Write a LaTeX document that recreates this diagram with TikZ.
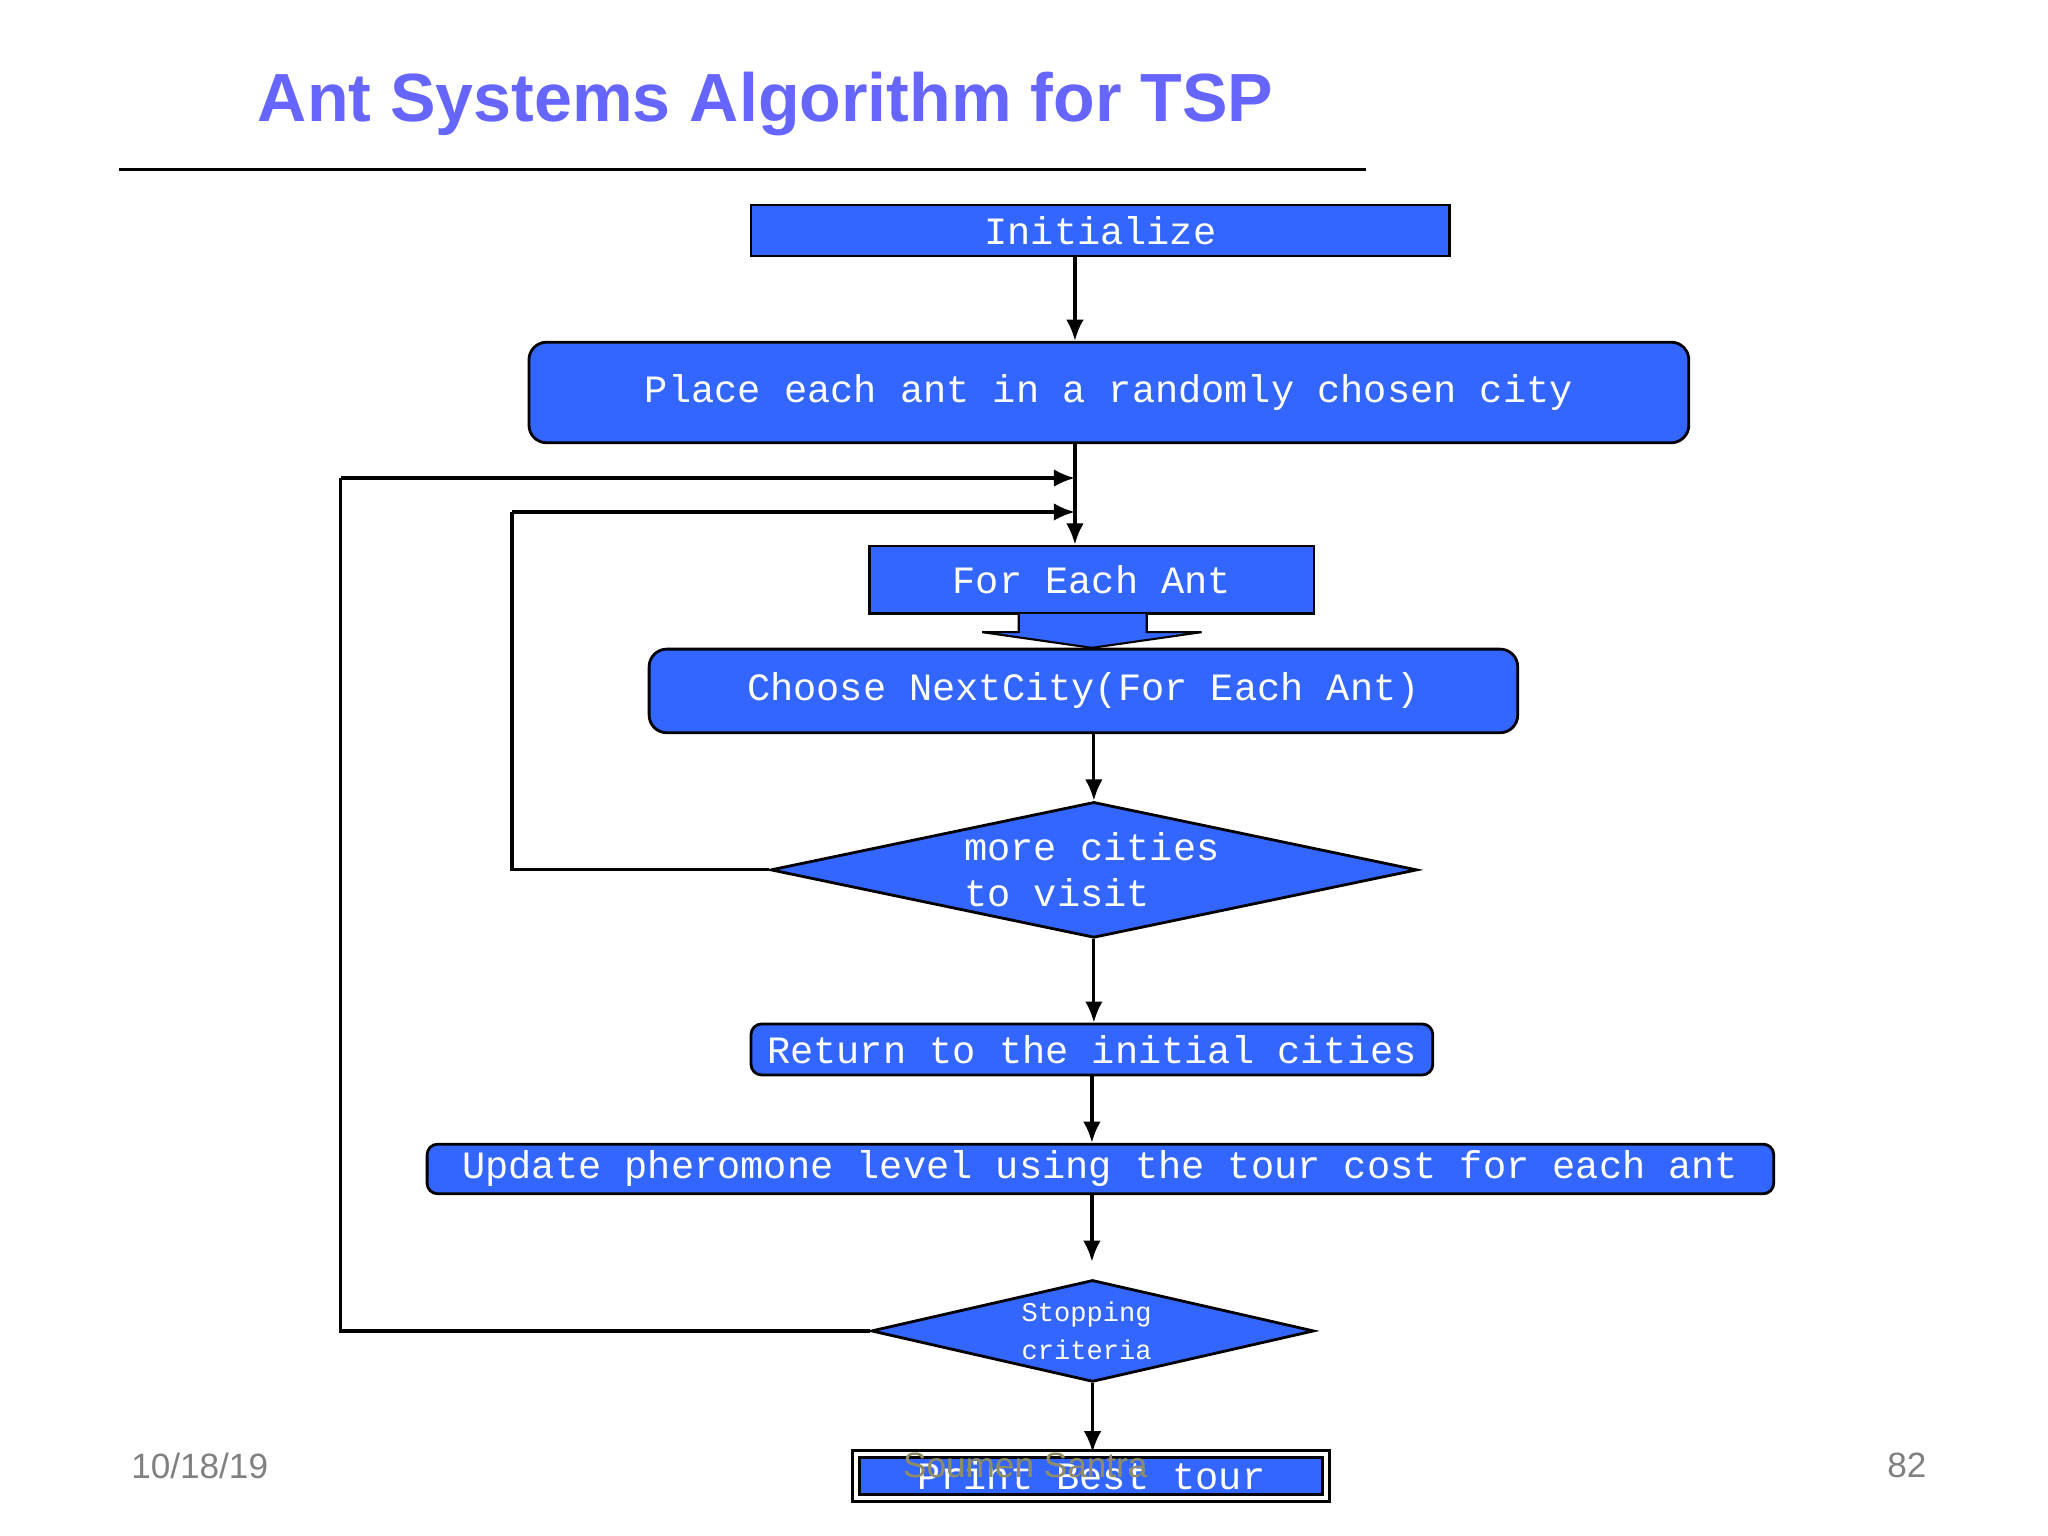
\documentclass[tikz,border=0pt]{standalone}
\usepackage{fontspec}
\setmainfont{Liberation Sans}
\newfontfamily\monof{Liberation Mono}
\usetikzlibrary{shapes.geometric,arrows.meta}
\definecolor{boxblue}{HTML}{3366FF}
\definecolor{titleblue}{HTML}{6666FF}
\begin{document}
\begin{tikzpicture}[x=0.01306cm,y=-0.01306cm,
  box/.style={draw=black,fill=boxblue,text=white,font=\monof\fontsize{11}{13}\selectfont,inner sep=0pt,line width=0.8pt},
  rbox/.style={box,rounded corners=5pt},
  dia/.style={draw=black,fill=boxblue,line width=0.8pt,inner sep=0pt,diamond},
  arr/.style={-{Latex[length=6pt,width=5pt]},line width=0.9pt},
  ln/.style={line width=0.9pt}]
\useasboundingbox (0,0) rectangle (1568,1176);
\node[font=\bfseries\fontsize{19.4}{23}\selectfont,text=titleblue,anchor=west] (title) at (188,80) {Ant Systems Algorithm for TSP};
\draw[line width=0.8pt] (91,130) coordinate (tl) -- (1046,130) coordinate (tr);
\node[box,minimum width={535*0.01306cm},minimum height={39*0.01306cm}] (init) at (842.5,176.5) {Initialize};
\node[rbox,minimum width={888*0.01306cm},minimum height={77*0.01306cm}] (place) at (849,300.5) {Place each ant in a randomly chosen city};
\node[box,minimum width={340*0.01306cm},minimum height={52*0.01306cm}] (each) at (836,444) {For Each Ant};
\draw[fill=boxblue,line width=0.6pt] (780,470) -- (780,484) -- (752,484) -- (836,496) -- (920,484) -- (878,484) -- (878,470);
\node[rbox,minimum width={665*0.01306cm},minimum height={64*0.01306cm}] (choose) at (829.5,529) {Choose NextCity(For Each Ant)};
\node[dia,minimum width={495*0.01306cm},minimum height={104*0.01306cm}] (more) at (837.5,666) {};
\node[text=white,font=\monof\fontsize{11}{13}\selectfont,align=left] (moret) at (836,666) {more cities\\ to visit};
\node[rbox,rounded corners=3pt,minimum width={522*0.01306cm},minimum height={39*0.01306cm}] (ret) at (836,803.5) {Return to the initial cities};
\node[rbox,rounded corners=3pt,minimum width={1031*0.01306cm},minimum height={38*0.01306cm}] (upd) at (842.5,895) {Update pheromone level using the tour cost for each ant};
\node[dia,minimum width={339*0.01306cm},minimum height={78*0.01306cm}] (stop) at (836.5,1019) {};
\node[text=white,font=\monof\fontsize{7.7}{11}\selectfont,align=center] (stopt) at (832,1019) {Stopping\\criteria};
\node[box,double,double distance=1.2pt,minimum width={360*0.01306cm},minimum height={34*0.01306cm}] (print) at (835.5,1130) {Print Best tour};
\node[font=\fontsize{10}{12}\selectfont,text=gray,anchor=west] (date) at (91,1122) {10/18/19};
\node[font=\fontsize{10}{12}\selectfont,text=gray!70!olive] (auth) at (785,1122) {Soumen Santra};
\node[font=\fontsize{10}{12}\selectfont,text=gray] (num) at (1460,1122) {82};
\coordinate (c1) at (823,366); \coordinate (c2) at (823,392);
\coordinate (s1) at (836,966);
\draw[arr] (init.south -| c1) -- (place.north -| c1);
\draw[arr] (place.south -| c1) -- (each.north -| c1);
\draw[arr] (choose.south -| more.north) -- (more.north);
\draw[arr] (more.south) -- (ret.north -| more.south);
\draw[arr] (ret.south -| s1) -- (upd.north -| s1);
\draw[arr] (upd.south -| s1) -- (s1);
\draw[arr] (stop.south) -- (print.north -| stop.south);
\draw[ln] (more.west) -- (392,666) coordinate (m1) -- (392,392) coordinate (m2);
\draw[arr] (m2) -- (c2);
\draw[ln] (stop.west) -- (261,1019) coordinate (s2) -- (261,366) coordinate (s3);
\draw[arr] (s3) -- (c1);
\end{tikzpicture}
\end{document}
